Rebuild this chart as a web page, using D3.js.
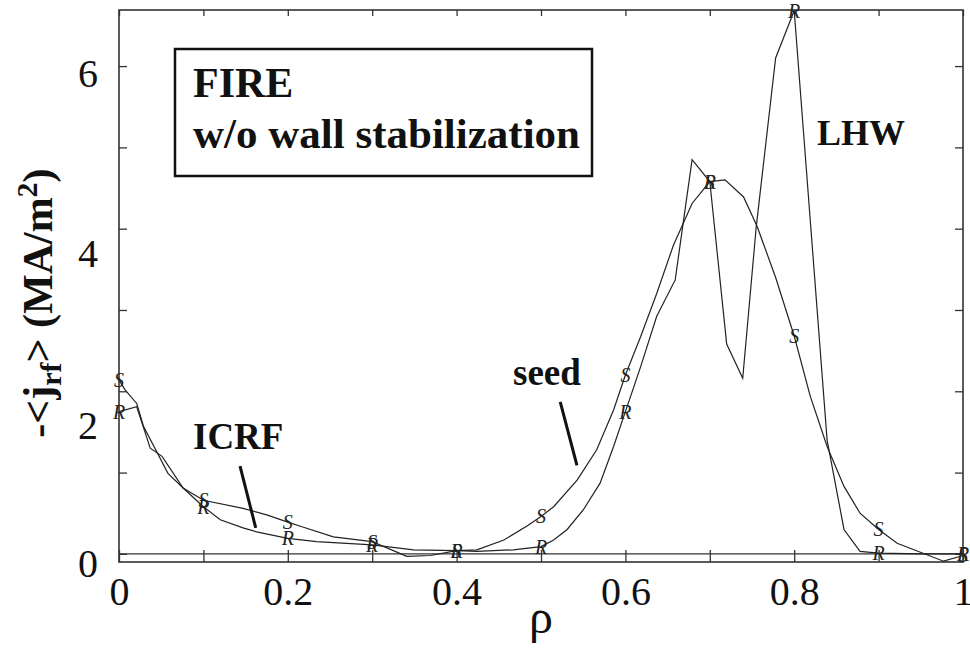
<!DOCTYPE html>
<html><head><meta charset="utf-8">
<script src="https://cdn.jsdelivr.net/npm/d3@7"></script>
<style>body{margin:0;background:#fff}svg{display:block}</style>
</head><body>
<svg id="chart" width="970" height="648"></svg>
<script>
// ---- data (rho, -<j_rf>) ----
const rhoS = [0,0.007,0.021,0.029,0.058,0.076,0.1,0.147,0.175,0.2,0.215,0.254,0.3,0.341,0.369,0.4,0.424,0.456,0.483,0.5,0.515,0.543,0.566,0.586,0.6,0.618,0.637,0.657,0.667,0.679,0.7,0.718,0.74,0.756,0.778,0.8,0.819,0.839,0.859,0.878,0.9,0.922,0.977,1.0];
const valS = [2.14,2.02,1.85,1.57,0.99,0.81,0.66,0.56,0.48,0.39,0.34,0.21,0.15,-0.03,-0.02,0.04,0.05,0.17,0.34,0.46,0.58,0.91,1.28,1.77,2.2,2.67,3.2,3.8,4.03,4.31,4.58,4.6,4.39,4.03,3.4,2.68,1.94,1.32,0.83,0.5,0.3,0.13,-0.09,-0.02];
const rhoR = [0,0.021,0.037,0.051,0.076,0.1,0.12,0.147,0.163,0.2,0.234,0.3,0.349,0.4,0.424,0.467,0.5,0.515,0.531,0.55,0.57,0.586,0.6,0.618,0.637,0.659,0.679,0.7,0.72,0.739,0.755,0.778,0.8,0.839,0.859,0.878,0.9,0.95,1.0];
const valR = [1.75,1.81,1.30,1.20,0.81,0.58,0.42,0.32,0.27,0.19,0.15,0.11,0.05,0.04,0.03,0.05,0.09,0.17,0.30,0.54,0.87,1.32,1.75,2.30,2.92,3.37,4.85,4.58,2.58,2.16,4.02,6.1,6.68,1.40,0.30,0.03,0.01,0.0,0.0];
const markerRho = [0,0.1,0.2,0.3,0.4,0.5,0.6,0.7,0.8,0.9,1.0];
const xTickValues = [0,0.2,0.4,0.6,0.8,1];
const xTickLabels = ["0","0.2","0.4","0.6","0.8","1"];
const xMinorTicks = [0,0.1,0.2,0.3,0.4,0.5,0.6,0.7,0.8,0.9,1];
const yTickValues = [0,2,4,6];
const yMinorTicks = [0,1,2,3,4,5,6];

const svg = d3.select("#chart");
const L = 119, R = 963, T = 10, B = 562;
const x = d3.scaleLinear().domain([0,1]).range([L,R]);
const y = d3.scaleLinear().domain([-0.1,6.69]).range([B,T]);
const serif = "'Liberation Serif','Times New Roman',Times,serif";
const ink = "#222";

// frame
svg.append("rect").attr("x",L).attr("y",T).attr("width",R-L).attr("height",B-T)
  .attr("fill","none").attr("stroke","#333").attr("stroke-width",1.6);
// zero line
svg.append("line").attr("x1",L).attr("x2",R).attr("y1",y(0)).attr("y2",y(0))
  .attr("stroke","#333").attr("stroke-width",1.3);

// ticks via axes (inward)
const bottomAx = d3.axisTop(x).tickValues(xMinorTicks).tickSize(12).tickFormat("");
const gB = svg.append("g").attr("transform",`translate(0,${B})`).call(bottomAx);
const topAx = d3.axisBottom(x).tickValues(xMinorTicks).tickSize(6).tickFormat("");
const gT = svg.append("g").attr("transform",`translate(0,${T})`).call(topAx);
const leftAx = d3.axisRight(y).tickValues(yMinorTicks).tickSize(8).tickFormat("");
const gL = svg.append("g").attr("transform",`translate(${L},0)`).call(leftAx);
const rightAx = d3.axisLeft(y).tickValues(yMinorTicks).tickSize(8).tickFormat("");
const gR = svg.append("g").attr("transform",`translate(${R},0)`).call(rightAx);
[gB,gT,gL,gR].forEach(g=>{g.select(".domain").remove();g.selectAll("line").attr("stroke","#333").attr("stroke-width",1.3);});

// tick labels
const xLab = d3.axisBottom(x).tickValues(xTickValues).tickSize(0).tickPadding(0)
  .tickFormat((d,i)=>xTickLabels[i]);
const gxl = svg.append("g").attr("transform",`translate(0,${B})`).call(xLab);
gxl.select(".domain").remove();
gxl.selectAll("text").attr("y",43).attr("dy",null).attr("font-family",serif).attr("font-size",40).attr("fill","#111");

// y labels sit slightly below their ticks in the original figure
const yLabelShift = {0:5, 2:29, 4:20, 6:2};
const yLab = d3.axisLeft(y).tickValues(yTickValues).tickSize(0).tickPadding(21).tickFormat(d3.format("d"));
const gyl = svg.append("g").attr("transform",`translate(${L},0)`).call(yLab);
gyl.select(".domain").remove();
gyl.selectAll("text").attr("dy","0.45em").attr("y",d=>yLabelShift[d])
  .attr("font-family",serif).attr("font-size",40).attr("fill","#111");

// axis titles
svg.append("text").attr("x",x(0.5)).attr("y",633).attr("text-anchor","middle")
  .attr("font-family",serif).attr("font-size",48).attr("fill","#111").text("ρ");
const yt = svg.append("text").attr("transform","translate(52,303) rotate(-90)")
  .attr("text-anchor","middle").attr("font-family",serif).attr("font-weight","bold")
  .attr("font-size",42).attr("fill","#111");
yt.append("tspan").text("-<j");
yt.append("tspan").attr("font-size",30).attr("dy",9).text("rf");
yt.append("tspan").attr("dy",-9).text("> (MA/m");
yt.append("tspan").attr("font-size",30).attr("dy",-15).text("2");
yt.append("tspan").attr("dy",15).text(")");

// curves
const line = d3.line().x(d=>x(d[0])).y(d=>y(d[1]));
const dS = rhoS.map((r,i)=>[r,valS[i]]);
const dR = rhoR.map((r,i)=>[r,valR[i]]);
svg.append("path").attr("d",line(dS)).attr("fill","none").attr("stroke",ink).attr("stroke-width",1.2);
svg.append("path").attr("d",line(dR)).attr("fill","none").attr("stroke",ink).attr("stroke-width",1.2);

// letter markers
function markers(data, letter){
  const pts = data.filter(d=>markerRho.some(m=>Math.abs(m-d[0])<1e-6));
  svg.append("g").selectAll("text").data(pts).join("text")
    .attr("x",d=>x(d[0])).attr("y",d=>y(d[1])).attr("dy","0.35em")
    .attr("text-anchor","middle").attr("font-family",serif).attr("font-style","italic")
    .attr("font-size",20).attr("fill",ink).text(letter);
}
markers(dS,"S");
markers(dR,"R");

// annotation box
svg.append("rect").attr("x",175).attr("y",49).attr("width",417).attr("height",127)
  .attr("fill","none").attr("stroke","#111").attr("stroke-width",2.5);
const bold = (t,px,py,fs)=>svg.append("text").attr("x",px).attr("y",py)
  .attr("font-family",serif).attr("font-weight","bold").attr("font-size",fs).attr("fill","#111").text(t);
bold("FIRE",193,97,42);
bold("w/o wall stabilization",193,148,43);
bold("LHW",817,145,36);
bold("ICRF",193,449,37);
bold("seed",513,385,37);

// leader lines
const leaders = [[[0.1434,1.08],[0.162,0.32]],[[0.5228,1.87],[0.5426,1.09]]];
leaders.forEach(l=>svg.append("line").attr("x1",x(l[0][0])).attr("y1",y(l[0][1]))
  .attr("x2",x(l[1][0])).attr("y2",y(l[1][1])).attr("stroke","#111").attr("stroke-width",3));
</script>
</body></html>
